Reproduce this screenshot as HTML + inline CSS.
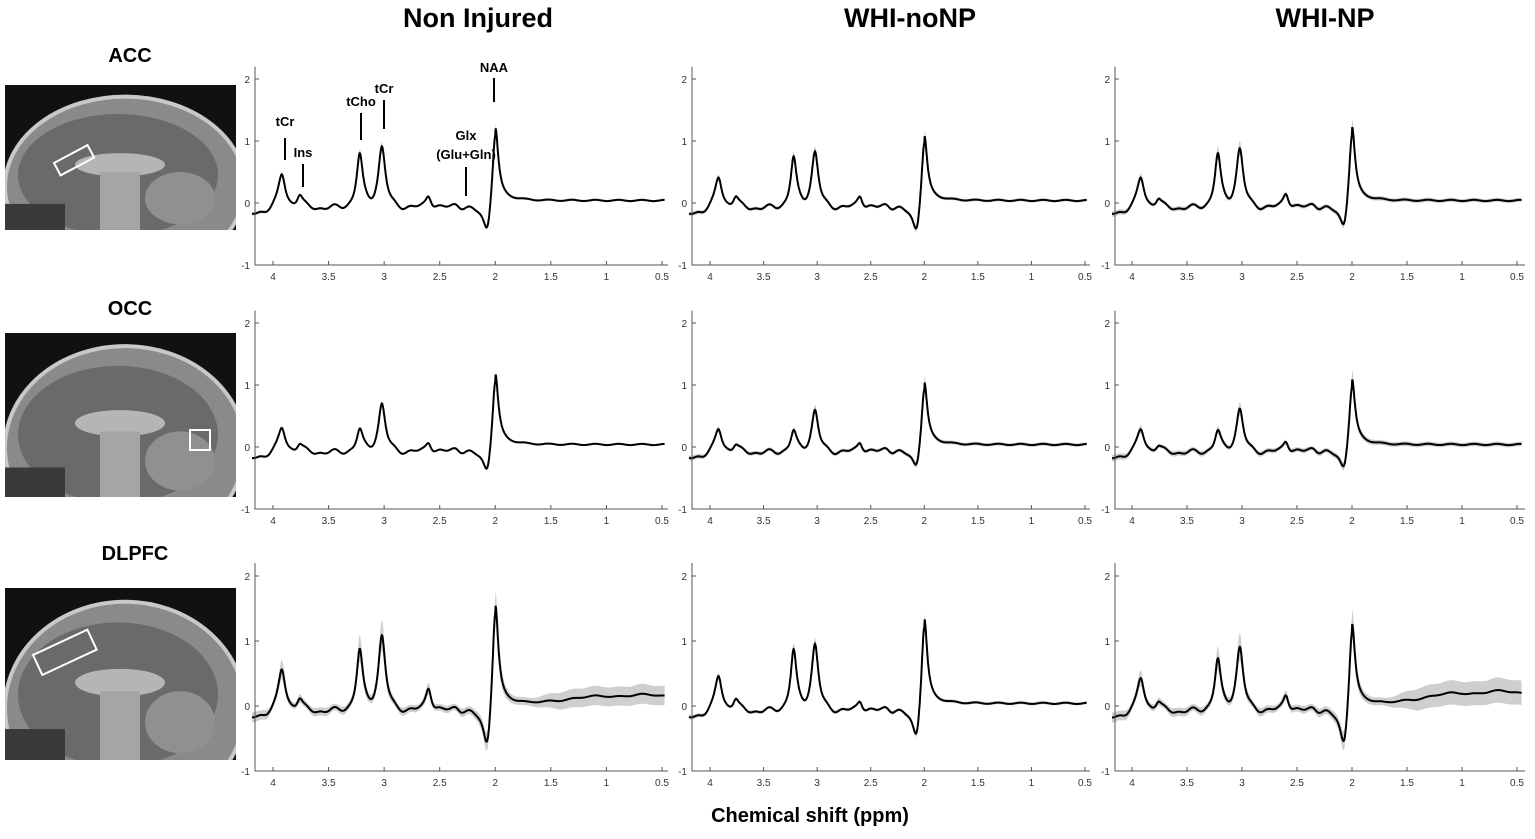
<!DOCTYPE html>
<html><head><meta charset="utf-8"><style>
body{margin:0;background:#fff;width:1535px;height:834px;overflow:hidden;font-family:"Liberation Sans",sans-serif}
svg text{font-family:"Liberation Sans",sans-serif}
</style></head><body>
<svg id="s" width="1535" height="834" xmlns="http://www.w3.org/2000/svg">
<defs>
<clipPath id="c0"><rect x="5" y="85" width="231" height="145"/></clipPath>
<clipPath id="c1"><rect x="5" y="333" width="231" height="164"/></clipPath>
<clipPath id="c2"><rect x="5" y="588" width="231" height="172"/></clipPath>
</defs>
<text x="478" y="27" font-size="27" font-weight="bold" text-anchor="middle">Non Injured</text>
<text x="910" y="27" font-size="27" font-weight="bold" text-anchor="middle">WHI-noNP</text>
<text x="1325" y="27" font-size="27" font-weight="bold" text-anchor="middle">WHI-NP</text>
<text x="130" y="62" font-size="20" font-weight="bold" text-anchor="middle">ACC</text>
<text x="130" y="315" font-size="20" font-weight="bold" text-anchor="middle">OCC</text>
<text x="135" y="560" font-size="20" font-weight="bold" text-anchor="middle">DLPFC</text>
<text x="810" y="822" font-size="20" font-weight="bold" text-anchor="middle">Chemical shift (ppm)</text>
<g id="brains"></g>
<g id="plots"></g>
</svg>
<script>
var NS="http://www.w3.org/2000/svg";
function el(p,t,a,txt){var e=document.createElementNS(NS,t);for(var k in a)e.setAttribute(k,a[k]);if(txt!==undefined)e.textContent=txt;p.appendChild(e);return e;}
var B=document.getElementById('brains');
[[85,230],[333,497],[588,760]].forEach(function(b,i){
 var y0=b[0],y1=b[1],h=y1-y0;
 var g=el(B,'g',{'clip-path':'url(#c'+i+')'});
 el(g,'rect',{x:5,y:y0,width:231,height:h,fill:'#111'});
 el(g,'ellipse',{cx:125,cy:y0+h*0.7,rx:120,ry:h*0.62,fill:'#8a8a8a',stroke:'#c8c8c8','stroke-width':4});
 el(g,'ellipse',{cx:118,cy:y0+h*0.62,rx:100,ry:h*0.42,fill:'#6a6a6a'});
 el(g,'ellipse',{cx:120,cy:y0+h*0.55,rx:45,ry:h*0.08,fill:'#b5b5b5'});
 el(g,'rect',{x:100,y:y0+h*0.6,width:40,height:h*0.4,fill:'#a5a5a5'});
 el(g,'ellipse',{cx:180,cy:y0+h*0.78,rx:35,ry:h*0.18,fill:'#909090'});
 el(g,'rect',{x:5,y:y0+h*0.82,width:60,height:h*0.2,fill:'#3a3a3a'});
});
var P=document.getElementById('plots');
var cols=[[273,662,255,668],[710,1085,692,1090],[1132,1517,1115,1525]];
var rows=[[203,62],[447,62],[706,65]];
var amps=[
[[.55,.2,.85,.98,.22,1.2,.45,0,.04],[.5,.18,.8,.9,.22,1.08,.45,0,.05],[.5,.14,.85,.95,.26,1.2,.4,0,.07]],
[[.4,.13,.35,.78,.18,1.15,.4,0,.03],[.38,.12,.33,.68,.18,1.0,.32,0,.06],[.38,.1,.33,.7,.2,1.05,.35,0,.08]],
[[.65,.18,.92,1.15,.38,1.6,.65,.12,.12],[.55,.18,.92,1.02,.18,1.35,.5,0,.05],[.52,.14,.78,.98,.28,1.3,.6,.17,.12]]];
function L(p,c,w){var x=(p-c)/w;return 1/(1+x*x);}
function f(p,a){
 var t=0.5+0.5*Math.tanh((p-2.05)/0.04);
 var base=t*(-0.1-0.03*Math.sin(p*25)-0.02*Math.sin(p*47))+(1-t)*(0.04+0.01*Math.sin(p*30));
 if(p>3.95)base-=(p-3.95)*0.4;
 var v=base+a[0]*L(p,3.92,.038)+a[1]*L(p,3.76,.032)+a[2]*L(p,3.22,.033)+a[3]*L(p,3.02,.038)+a[4]*L(p,2.6,.032)+0.08*L(p,2.35,.05);
 v+=a[5]*L(p,2.0,.032);
 v-=a[6]*1.1*L(p,2.07,.045);
 if(p<2.0)v+=0.12*Math.exp(-(2-p)/0.12);
 if(p<1.7)v+=a[7]*Math.min(1,(1.7-p)/0.7)*(1+0.15*Math.sin(p*12));
 return v;
}
rows.forEach(function(R,ri){cols.forEach(function(C,ci){
 var a=amps[ri][ci],sc=(C[1]-C[0])/3.5;
 var X=function(p){return C[0]+(4-p)*sc;}, Y=function(v){return R[0]-v*R[1];};
 var pL=4+(C[0]-C[2]+3)/sc,pR=0.5-(C[3]-C[1]-3)/sc;
 var up='',dn='',ln='';
 for(var p=pL;p>=pR;p-=0.004){var v=f(p,a),w=a[8]*(0.4+1.5*Math.min(1,Math.abs(v)))+(p<1.7?a[7]*0.6*Math.min(1,(1.7-p)/0.3):0);
  up+=(up?'L':'M')+X(p).toFixed(1)+','+Y(v+w).toFixed(1);
  dn='L'+X(p).toFixed(1)+','+Y(v-w).toFixed(1)+dn;
  ln+=(ln?'L':'M')+X(p).toFixed(1)+','+Y(v).toFixed(1);}
 el(P,'path',{d:up+dn+'Z',fill:'#cfcfcf'});
 el(P,'path',{d:ln,fill:'none',stroke:'#000','stroke-width':2});
 var yb=Y(-1);
 el(P,'path',{d:'M'+C[2]+','+Y(2.2)+'V'+yb+'H'+C[3],fill:'none',stroke:'#555','stroke-width':1});
 [2,1,0,-1].forEach(function(t){el(P,'line',{x1:C[2],x2:C[2]+4,y1:Y(t),y2:Y(t),stroke:'#555'});el(P,'text',{x:C[2]-5,y:Y(t)+4,'font-size':10,'text-anchor':'end',fill:'#333'},t);});
 [4,3.5,3,2.5,2,1.5,1,0.5].forEach(function(t){el(P,'line',{x1:X(t),x2:X(t),y1:yb,y2:yb-4,stroke:'#555'});el(P,'text',{x:X(t),y:yb+15,'font-size':10,'text-anchor':'middle',fill:'#333'},t);});
});});
var lab=[[285,126,'tCr',138,160],[303,157,'Ins',164,187],[361,106,'tCho',113,140],[384,93,'tCr',100,129],[466,140,'Glx',167,196],[494,72,'NAA',78,102]];
lab.forEach(function(l){el(P,'text',{x:l[0],y:l[1],'font-size':13,'font-weight':'bold','text-anchor':'middle'},l[2]);el(P,'line',{x1:l[0],x2:l[0],y1:l[3],y2:l[4],stroke:'#000','stroke-width':2});});
el(P,'text',{x:466,y:159,'font-size':13,'font-weight':'bold','text-anchor':'middle'},'(Glu+Gln)');
el(B,'rect',{x:0,y:0,width:38,height:14,fill:'none',stroke:'#fff','stroke-width':2,transform:'translate(54,163) rotate(-28)'});
el(B,'rect',{x:190,y:430,width:20,height:20,fill:'none',stroke:'#fff','stroke-width':2});
el(B,'rect',{x:0,y:0,width:60,height:22,fill:'none',stroke:'#fff','stroke-width':2,transform:'translate(33,655) rotate(-25)'});
</script>
</body></html>
